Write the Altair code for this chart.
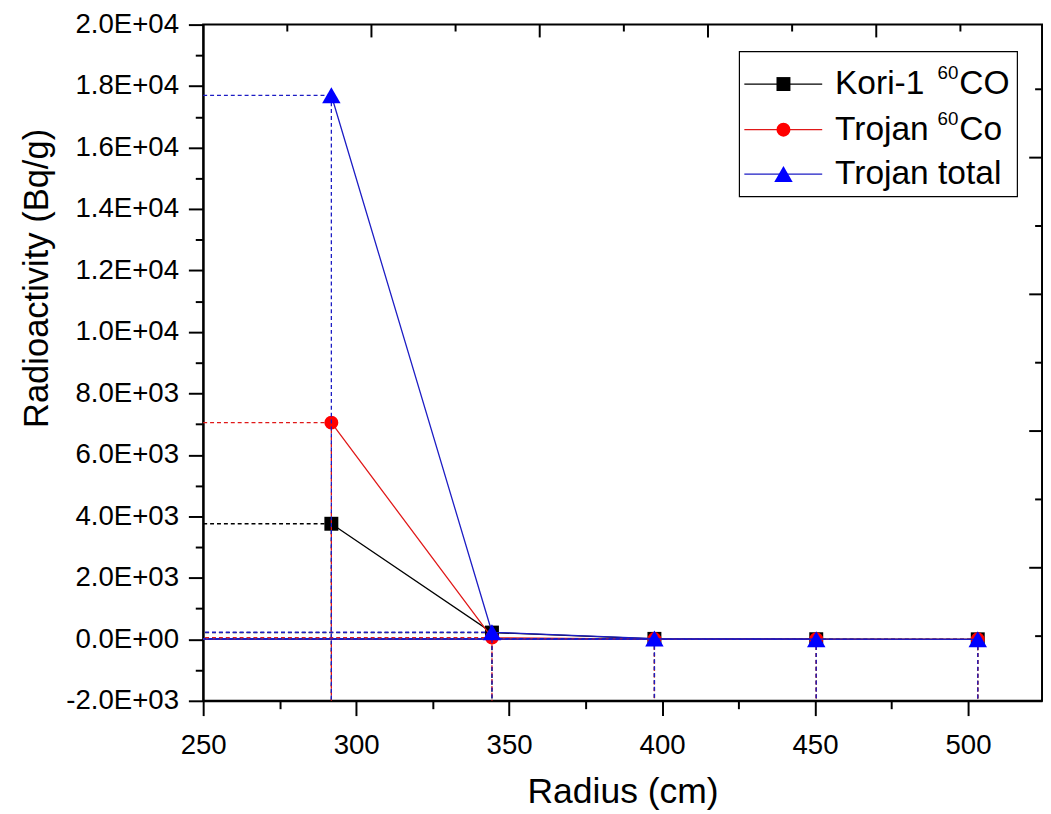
import altair as alt
import pandas as pd

# ---------------- data ----------------
series = ["Kori-1 60CO", "Trojan 60Co", "Trojan total"]
legend_main = ["Kori-1", "Trojan", "Trojan total"]
legend_sup = ["60", "60", ""]
legend_tail = ["CO", "Co", ""]
radius = [291.9, 344.4, 397.5, 450.4, 503.2]
kori_60co = [3760, 220, 15, 4, 1]
trojan_60co = [7050, 55, 8, 2, 0.5]
trojan_total = [17700, 230, 25, 6, 2]

x_major_ticks = [250, 300, 350, 400, 450, 500]
x_minor_ticks = [275, 325, 375, 425, 475]
y_major_ticks = [-2000, 0, 2000, 4000, 6000, 8000, 10000, 12000, 14000, 16000, 18000, 20000]
y_minor_ticks = [-1000, 1000, 3000, 5000, 7000, 9000, 11000, 13000, 15000, 17000, 19000]
top_major_ticks = [1, 2, 3, 4]
top_minor_ticks = [0.5, 1.5, 2.5, 3.5, 4.5]
right_major_ticks = [0, 1, 2, 3]
right_minor_ticks = [-0.5, 0.5, 1.5, 2.5, 3.5]

# ---------------- styles ----------------
line_colors = ["#000000", "#e01818", "#1c1cc4"]
fill_colors = ["#000000", "#ff0000", "#0000ff"]
shapes = ["square", "circle", "triangle-up"]
marker_sizes = [200, 200, 350]
FONT = "Liberation Sans"

W, H = 851, 686
X_DOMAIN = [250, 524.2]
Y_DOMAIN = [-2000, 20000]
TOP_DOMAIN = [0, 4.985]
RIGHT_DOMAIN = [-0.973, 3.973]
PX_PER_UNIT_Y = H / (Y_DOMAIN[1] - Y_DOMAIN[0])

values_list = [kori_60co, trojan_60co, trojan_total]
rows = []
for s, vals in zip(series, values_list):
    for r, v in zip(radius, vals):
        rows.append({"series": s, "radius": r, "value": v})
df = pd.DataFrame(rows)

label_expr = ("replace(replace(replace(format(datum.value, '.1e'), 'e+', 'E+0'), "
              "'e-', 'E-0'), '\u2212', '-')")

X = alt.X("radius:Q", scale=alt.Scale(domain=X_DOMAIN, nice=False, zero=False),
          axis=alt.Axis(orient="bottom", values=x_major_ticks, tickSize=15, format="d",
                        labelFlush=False, title="Radius (cm)", labelPadding=16, titlePadding=16,
                        titleFontSize=36))
Y = alt.Y("value:Q", scale=alt.Scale(domain=Y_DOMAIN, nice=False, zero=False),
          axis=alt.Axis(orient="left", values=y_major_ticks, tickSize=15, labelExpr=label_expr,
                        labelFlush=False, title="Radioactivity (Bq/g)", labelPadding=10,
                        titlePadding=12, titleY=257))

base = alt.Chart(df)
main_layers = []
for i, s in enumerate(series):
    b = base.transform_filter(alt.datum.series == s)
    main_layers.append(b.mark_rule(color=line_colors[i], strokeWidth=1.3, strokeDash=[4, 3])
                       .encode(x=X, x2=alt.value(0), y=Y))
    main_layers.append(b.mark_rule(color=line_colors[i], strokeWidth=1.3, strokeDash=[4, 3])
                       .encode(x=X, y=Y, y2=alt.value(H)))
    main_layers.append(b.mark_line(color=line_colors[i], strokeWidth=1.3).encode(x=X, y=Y))
    main_layers.append(b.mark_point(shape=shapes[i], size=marker_sizes[i], filled=True,
                                    fill=fill_colors[i], opacity=1, strokeWidth=0)
                       .encode(x=X, y=Y))
main = alt.layer(*main_layers)

dummy = pd.DataFrame({"d": [0]})
yscale_frame = alt.Scale(domain=Y_DOMAIN, nice=False, zero=False)


def x_ticks_layer(domain, values, size):
    ax = dict(orient="bottom", values=values, tickSize=size, labels=False,
              domain=False, title=None, grid=False)
    return alt.Chart(pd.DataFrame({"t": values})).mark_point(opacity=0).encode(
        x=alt.X("t:Q", scale=alt.Scale(domain=domain, nice=False, zero=False), axis=alt.Axis(**ax)),
        y=alt.value(H / 2))


def y_ticks_layer(domain, values, size):
    ax = dict(orient="left", values=values, tickSize=size, labels=False,
              domain=False, title=None, grid=False)
    return alt.Chart(pd.DataFrame({"t": values})).mark_point(opacity=0).encode(
        y=alt.Y("t:Q", scale=alt.Scale(domain=domain, nice=False, zero=False), axis=alt.Axis(**ax)),
        x=alt.value(W / 2))


def top_ticks(values, length):
    return alt.Chart(pd.DataFrame({"t": values})).mark_rule(color="black", strokeWidth=2).encode(
        x=alt.X("t:Q", scale=alt.Scale(domain=TOP_DOMAIN, nice=False, zero=False), axis=None),
        y=alt.Y(datum=Y_DOMAIN[1], scale=yscale_frame, axis=None),
        y2=alt.Y2(datum=Y_DOMAIN[1] - length / PX_PER_UNIT_Y))


def right_ticks(values, length):
    return alt.Chart(pd.DataFrame({"t": values})).mark_rule(color="black", strokeWidth=2).encode(
        y=alt.Y("t:Q", scale=alt.Scale(domain=RIGHT_DOMAIN, nice=False, zero=False), axis=None),
        x=alt.value(W - length - 2), x2=alt.value(W))


axis_layers = [
    x_ticks_layer(X_DOMAIN, x_minor_ticks, 8),
    y_ticks_layer(Y_DOMAIN, y_minor_ticks, 8),
]
frame_layers = [
    top_ticks(top_major_ticks, 13),
    top_ticks(top_minor_ticks, 7),
    right_ticks(right_major_ticks, 11),
    right_ticks(right_minor_ticks, 5),
]

# ---------------- legend ----------------
legend_rows = [60.3, 106.6, 151.6]
legend_layers = [
    alt.Chart(dummy).mark_rect(fill="white", stroke="black", strokeWidth=1.2).encode(
        x=alt.value(544), x2=alt.value(826), y=alt.value(27.5), y2=alt.value(174.5))
]
for i in range(len(series)):
    ry = legend_rows[i]
    legend_layers.append(alt.Chart(dummy).mark_rule(color=line_colors[i], strokeWidth=1.3).encode(
        x=alt.value(549), x2=alt.value(628), y=alt.value(ry)))
    legend_layers.append(alt.Chart(dummy).mark_point(shape=shapes[i], size=marker_sizes[i], filled=True,
                                                     fill=fill_colors[i], opacity=1, strokeWidth=0)
                         .encode(x=alt.value(588.7), y=alt.value(ry)))
    legend_layers.append(alt.Chart(dummy).mark_text(text=legend_main[i], align="left", baseline="alphabetic",
                                                    font=FONT, fontSize=34, color="black")
                         .encode(x=alt.value(641), y=alt.value(ry + 10)))
    if legend_sup[i]:
        legend_layers.append(alt.Chart(dummy).mark_text(text=legend_sup[i], align="left",
                                                        baseline="alphabetic", font=FONT,
                                                        fontSize=19, color="black")
                             .encode(x=alt.value(745), y=alt.value(ry - 5)))
        legend_layers.append(alt.Chart(dummy).mark_text(text=legend_tail[i], align="left",
                                                        baseline="alphabetic", font=FONT,
                                                        fontSize=34, color="black")
                             .encode(x=alt.value(767), y=alt.value(ry + 10)))

chart = alt.layer(main, *axis_layers, *legend_layers, *frame_layers).resolve_scale(
    x="independent", y="independent"
).properties(
    width=W, height=H,
    padding={"left": 11, "top": -3, "right": 0, "bottom": 0},
).configure_view(stroke="black", strokeWidth=2).configure_axis(
    labelFont=FONT, titleFont=FONT, labelFontSize=28, titleFontSize=35,
    labelColor="black", titleColor="black", domainColor="black", tickColor="black",
    domainWidth=2, tickWidth=2, grid=False, titleFontWeight="normal",
)

chart.save("out.html", embed_options={"renderer": "svg", "actions": False})
